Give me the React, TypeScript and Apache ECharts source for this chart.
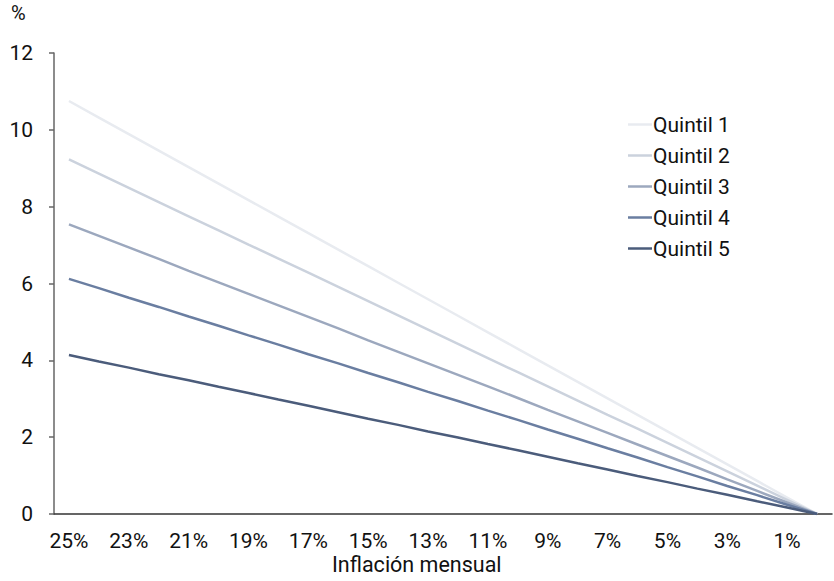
import React, { useEffect, useRef } from "react";
import * as echarts from "echarts";

const categories = [
  "25%", "24%", "23%", "22%", "21%", "20%", "19%", "18%", "17%", "16%", "15%", "14%", "13%",
  "12%", "11%", "10%", "9%", "8%", "7%", "6%", "5%", "4%", "3%", "2%", "1%", "0%",
];

const quintil1 = [10.75, 10.32, 9.89, 9.46, 9.03, 8.6, 8.17, 7.74, 7.31, 6.88, 6.45, 6.02, 5.59, 5.16, 4.73, 4.3, 3.87, 3.44, 3.01, 2.58, 2.15, 1.72, 1.29, 0.86, 0.43, 0];
const quintil2 = [9.23, 8.86, 8.49, 8.12, 7.75, 7.38, 7.01, 6.65, 6.28, 5.91, 5.54, 5.17, 4.8, 4.43, 4.06, 3.69, 3.32, 2.95, 2.58, 2.22, 1.85, 1.48, 1.11, 0.74, 0.37, 0];
const quintil3 = [7.54, 7.24, 6.94, 6.64, 6.33, 6.03, 5.73, 5.43, 5.13, 4.83, 4.52, 4.22, 3.92, 3.62, 3.32, 3.02, 2.71, 2.41, 2.11, 1.81, 1.51, 1.21, 0.9, 0.6, 0.3, 0];
const quintil4 = [6.12, 5.88, 5.63, 5.39, 5.14, 4.9, 4.65, 4.41, 4.16, 3.92, 3.67, 3.43, 3.18, 2.94, 2.69, 2.45, 2.2, 1.96, 1.71, 1.47, 1.22, 0.98, 0.73, 0.49, 0.24, 0];
const quintil5 = [4.14, 3.97, 3.81, 3.64, 3.48, 3.31, 3.15, 2.98, 2.82, 2.65, 2.48, 2.32, 2.15, 1.99, 1.82, 1.66, 1.49, 1.32, 1.16, 0.99, 0.83, 0.66, 0.5, 0.33, 0.17, 0];

const seriesNames = ["Quintil 1", "Quintil 2", "Quintil 3", "Quintil 4", "Quintil 5"];
const seriesData = [quintil1, quintil2, quintil3, quintil4, quintil5];
const seriesColors = ["#e8ebf0", "#cbd2dd", "#9ca8be", "#6a7ea1", "#4b5c7b"];

const xAxisTitle = "Inflación mensual";
const yAxisUnit = "%";

const FONT = "Roboto, 'Noto Sans', sans-serif";

export default function App() {
  const ref = useRef<HTMLDivElement>(null);
  useEffect(() => {
    document.body.style.margin = "0";
    const chart = echarts.init(ref.current!, null, { renderer: "svg" });
    chart.setOption({
      animation: false,
      textStyle: { fontFamily: FONT },
      grid: { left: 54, right: 2, top: 53, bottom: 67, containLabel: false, outerBoundsMode: "none" },
      legend: {
        orient: "vertical",
        left: 623,
        top: 109,
        icon: "rect",
        itemWidth: 24,
        itemHeight: 2.5,
        itemGap: 10,
        textStyle: { fontSize: 21, color: "#111", fontFamily: FONT, padding: [0, 0, 0, -4] },
        data: seriesNames,
      },
      graphic: [
        {
          type: "text",
          left: 11,
          top: 3,
          style: { text: yAxisUnit, fontSize: 20, fill: "#111", fontFamily: FONT },
        },
        {
          type: "text",
          left: 332,
          top: 553,
          style: { text: xAxisTitle, fontSize: 21.5, fill: "#111", fontFamily: FONT },
        },
      ],
      xAxis: {
        type: "category",
        data: categories,
        boundaryGap: true,
        axisLine: { lineStyle: { color: "#333", width: 1.5 } },
        axisTick: { inside: true, length: 5, interval: 1, lineStyle: { color: "#333", width: 1.5 } },
        axisLabel: { interval: 1, fontSize: 21, color: "#111", margin: 16, fontFamily: FONT },
        splitLine: { show: false },
      },
      yAxis: {
        type: "value",
        min: 0,
        max: 12,
        interval: 2,
        axisLine: { show: true, lineStyle: { color: "#666", width: 1.5 } },
        axisTick: { show: true, inside: false, length: 5, lineStyle: { color: "#666", width: 1.5 } },
        axisLabel: { fontSize: 21, color: "#111", margin: 21, fontFamily: FONT },
        splitLine: { show: false },
      },
      series: seriesNames.map((name, i) => ({
        name,
        type: "line",
        data: seriesData[i],
        symbol: "none",
        showSymbol: false,
        lineStyle: { color: seriesColors[i], width: 2.5 },
        itemStyle: { color: seriesColors[i] },
      })),
    });
    return () => chart.dispose();
  }, []);
  return <div ref={ref} style={{ width: 834, height: 581 }} />;
}
